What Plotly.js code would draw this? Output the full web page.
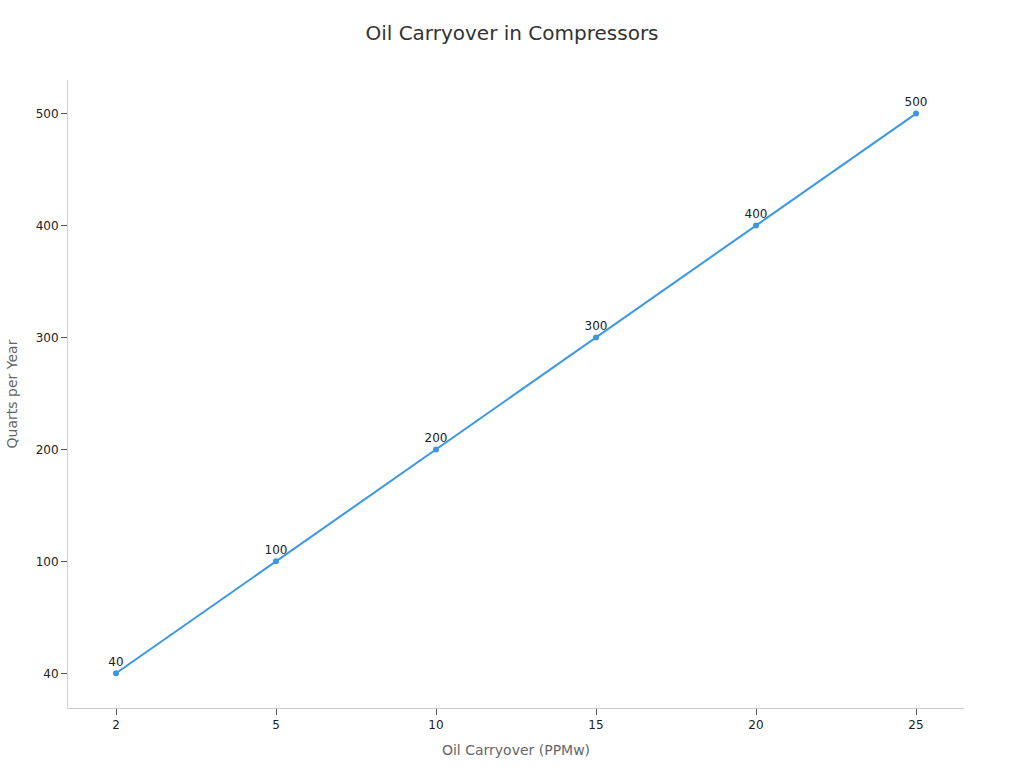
<!DOCTYPE html>
<html>
<head>
<meta charset="utf-8">
<script src="https://cdn.plot.ly/plotly-3.0.1.min.js"></script>
<style>
  html, body { margin: 0; padding: 0; background: #fff; }
  #chart { width: 1024px; height: 768px; }
</style>
</head>
<body>
<div id="chart"></div>
<script>
// Data
const oilCarryover = ['2', '5', '10', '15', '20', '25'];      // PPMw
const quartsPerYear = ['40', '100', '200', '300', '400', '500'];
const pointLabels = ['40', '100', '200', '300', '400', '500'];

const lineColor = '#3a96e6';

const trace = {
  x: oilCarryover,
  y: quartsPerYear,
  type: 'scatter',
  mode: 'lines+markers+text',
  text: pointLabels,
  textposition: 'top center',
  textfont: { family: 'DejaVu Sans', size: 12, color: '#222' },
  line: { color: lineColor, width: 2 },
  marker: { color: lineColor, size: 6 },
  hoverinfo: 'x+y',
  cliponaxis: false
};

const layout = {
  width: 1024,
  height: 768,
  margin: { l: 68, r: 60, t: 80, b: 60 },
  paper_bgcolor: '#fff',
  plot_bgcolor: '#fff',
  font: { family: 'DejaVu Sans', size: 12, color: '#333' },
  title: {
    text: 'Oil Carryover in Compressors',
    font: { family: 'DejaVu Sans', size: 20, color: '#333' },
    x: 0.5,
    y: 0.957,
    yanchor: 'middle'
  },
  showlegend: false,
  xaxis: {
    type: 'category',
    range: [-0.3, 5.3],
    title: { text: 'Oil Carryover (PPMw)', font: { size: 14, color: '#666' }, standoff: 13 },
    showgrid: false,
    zeroline: false,
    showline: true,
    linecolor: '#d0d0d0',
    linewidth: 1,
    ticks: 'outside',
    ticklen: 6,
    tickcolor: '#555',
    tickfont: { size: 12, color: '#222' }
  },
  yaxis: {
    type: 'category',
    range: [-0.31, 5.3],
    title: { text: 'Quarts per Year', font: { size: 14, color: '#666' }, standoff: 14 },
    showgrid: false,
    zeroline: false,
    showline: true,
    linecolor: '#d0d0d0',
    linewidth: 1,
    ticks: 'outside',
    ticklen: 6,
    tickcolor: '#555',
    tickfont: { size: 12, color: '#222' }
  }
};

Plotly.newPlot('chart', [trace], layout, { displayModeBar: false, staticPlot: true });
</script>
</body>
</html>
